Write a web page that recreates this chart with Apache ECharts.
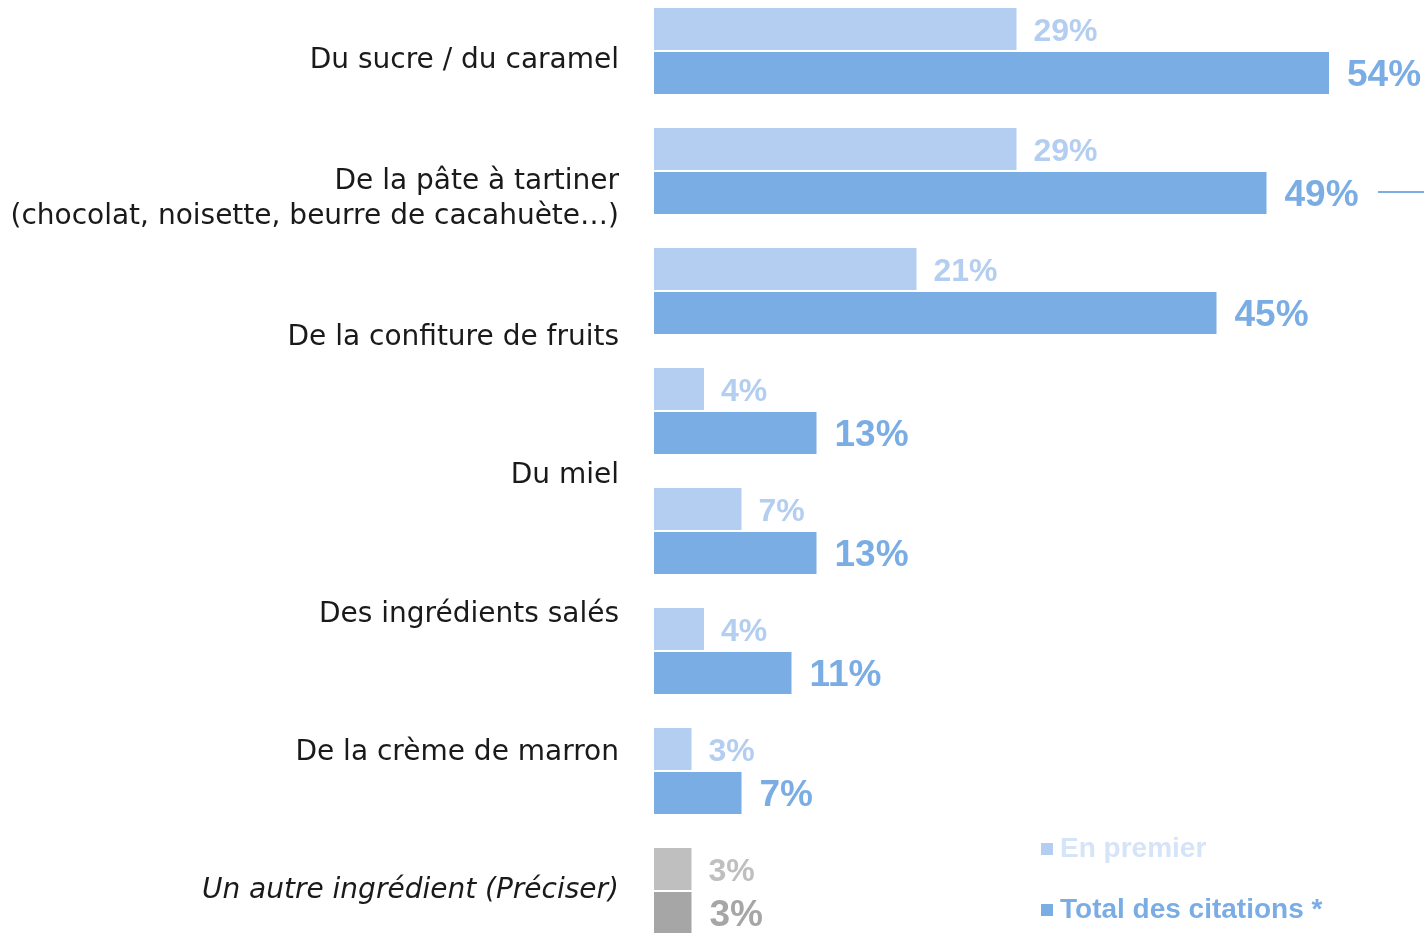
<!DOCTYPE html>
<html><head><meta charset="utf-8">
<script src="https://cdn.jsdelivr.net/npm/echarts@6/dist/echarts.min.js"></script>
<style>html,body{margin:0;padding:0;background:#fff}#c{width:1424px;height:933px}</style>
</head><body><div id="c"></div>
<script>
const barGroups = ['g1','g2','g3','g4','g5','g6','g7','g8'];
const labelNames = ['Du sucre / du caramel','De la pâte à tartiner\n(chocolat, noisette, beurre de cacahuète…)','De la confiture de fruits','Du miel','Des ingrédients salés','De la crème de marron','Un autre ingrédient (Préciser)'];
const enPremier = [29,29,21,4,7,4,3,3];
const totalCitations = [54,49,45,13,13,11,7,3];
const seriesNames = ['En premier','Total des citations *'];

const LIGHT='#B3CEF1', DARK='#7BADE5', GLIGHT='#BFBFBF', GDARK='#A6A6A6';
const otherIdx = barGroups.length-1;
function build(vals, gray){
  return vals.map((v,i)=> i===otherIdx ? {value:v,itemStyle:{color:gray},label:{color:gray}} : v);
}
const chart = echarts.init(document.getElementById('c'));
chart.setOption({
  animation:false,
  grid:[
    {left:654, top:51, width:750, height:840, containLabel:false},
    {left:627, top:61, width:10, height:830, containLabel:false}
  ],
  xAxis:[
    {gridIndex:0,type:'value',min:0,max:60,show:false},
    {gridIndex:1,type:'value',min:0,max:1,show:false}
  ],
  yAxis:[
    {gridIndex:0,type:'category',data:barGroups,inverse:true,boundaryGap:false,show:false},
    {gridIndex:1,type:'category',data:labelNames,inverse:true,boundaryGap:false,
     axisLine:{show:false},axisTick:{show:false},splitLine:{show:false},
     axisLabel:{margin:8,fontFamily:'DejaVu Sans',fontSize:28,color:'#1a1a1a',lineHeight:35,align:'right',
       formatter:(v,i)=> i===labelNames.length-1 ? '{it|'+v+'}' : v,
       rich:{it:{fontStyle:'italic',fontFamily:'DejaVu Sans',fontSize:28,color:'#1a1a1a'}}}}
  ],
  legend:{
    orient:'vertical',left:1036,top:829,itemWidth:12,itemHeight:12,itemGap:31,icon:'rect',
    data:[
      {name:seriesNames[0],textStyle:{color:'#D6E4F7'}},
      {name:seriesNames[1],textStyle:{color:DARK}}
    ],
    textStyle:{fontFamily:'Liberation Sans',fontWeight:'bold',fontSize:28,lineHeight:30,padding:[0,0,0,2]}
  },
  series:[
    {name:seriesNames[0],type:'bar',xAxisIndex:0,yAxisIndex:0,data:build(enPremier,GLIGHT),
     barWidth:42,barGap:'5%',itemStyle:{color:LIGHT},
     label:{show:true,position:'right',distance:17,offset:[0,3],formatter:'{c}%',color:LIGHT,fontFamily:'Liberation Sans',fontWeight:'bold',fontSize:32}},
    {name:seriesNames[1],type:'bar',xAxisIndex:0,yAxisIndex:0,data:build(totalCitations,GDARK),
     barWidth:42,barGap:'5%',itemStyle:{color:DARK},
     label:{show:true,position:'right',distance:18,offset:[0,3],formatter:'{c}%',color:DARK,fontFamily:'Liberation Sans',fontWeight:'bold',fontSize:37}}
  ],
  graphic:[{type:'line',shape:{x1:1378,y1:192,x2:1424,y2:192},style:{stroke:DARK,lineWidth:2}}]
});
</script></body></html>
